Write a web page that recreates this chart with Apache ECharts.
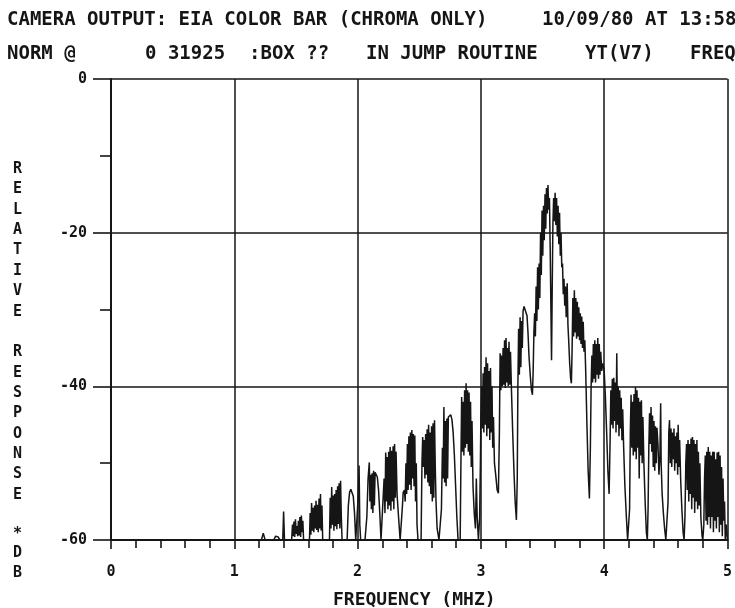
<!DOCTYPE html>
<html>
<head>
<meta charset="utf-8">
<script src="https://cdn.jsdelivr.net/npm/echarts@6/dist/echarts.min.js"></script>
<style>
html,body{margin:0;padding:0;background:#fff;}
#chart{width:735px;height:608px;}
</style>
</head>
<body>
<div id="chart"></div>
<script>
// ---- texts ----
const headerLine1 = [
  { text: 'CAMERA OUTPUT: EIA COLOR BAR (CHROMA ONLY)', x: 7 },
  { text: '10/09/80 AT 13:58', x: 542 }
];
const headerLine2 = [
  { text: 'NORM @', x: 7 },
  { text: '0 31925', x: 145 },
  { text: ':BOX ??', x: 249 },
  { text: 'IN JUMP ROUTINE', x: 366 },
  { text: 'YT(V7)', x: 585 },
  { text: 'FREQ', x: 690 }
];
const yAxisTitle = 'R\nE\nL\nA\nT\nI\nV\nE\n\nR\nE\nS\nP\nO\nN\nS\nE';
const yAxisUnit = '*\nD\nB';
const xAxisTitle = 'FREQUENCY (MHZ)';

// ---- axes ----
const freqRange = [0, 5];
const freqStep = 1;
const dbRange = [-60, 0];
const dbStep = 20;

// ---- spectrum trace: [frequency MHz, relative response dB] ----
const spectrum = [
[1.15,-60],[1.22,-60],[1.235,-59.1],[1.25,-60],[1.32,-60],[1.335,-59.5],[1.355,-59.6],[1.37,-60],[1.393,-60],[1.40,-56.3],[1.407,-60],[1.465,-60],
[1.472,-58.0],[1.478,-59.5],[1.484,-57.6],[1.49,-59.6],[1.496,-57.3],[1.502,-59.2],[1.508,-58.2],[1.514,-59.5],[1.52,-57.5],[1.526,-59.4],[1.532,-57.0],[1.538,-59.6],[1.544,-56.8],[1.55,-59.0],[1.556,-57.5],[1.562,-60],[1.61,-60],
[1.615,-56.5],[1.621,-59.3],[1.627,-55.2],[1.633,-58.8],[1.639,-55.8],[1.645,-59.0],[1.651,-55.5],[1.657,-58.5],[1.663,-54.9],[1.669,-58.7],[1.675,-55.4],[1.681,-59.0],[1.687,-54.6],[1.693,-58.5],[1.699,-54.0],[1.705,-58.8],[1.711,-55.5],[1.717,-60],[1.772,-60],
[1.778,-54.5],[1.784,-58.5],[1.79,-53.1],[1.796,-58.0],[1.802,-54.2],[1.808,-58.8],[1.814,-54.0],[1.82,-58.2],[1.826,-53.5],[1.832,-58.6],[1.838,-53.0],[1.844,-57.9],[1.85,-52.6],[1.856,-58.5],[1.862,-52.3],[1.868,-57.0],[1.874,-60],[1.915,-60],
[1.925,-55.5],[1.935,-53.8],[1.945,-53.4],[1.955,-53.5],[1.965,-54.3],[1.975,-56.5],[1.985,-60],[1.998,-60],[2.006,-54.0],[2.012,-50.3],[2.018,-58.0],[2.025,-60],[2.06,-60],
[2.075,-57.0],[2.085,-52.0],[2.095,-49.9],[2.10,-55.0],[2.106,-51.5],[2.112,-56.0],[2.118,-51.3],[2.124,-56.5],[2.13,-51.0],[2.136,-55.5],[2.142,-51.2],[2.15,-51.3],[2.16,-51.8],[2.17,-53.5],[2.18,-56.5],[2.19,-60],[2.205,-60],
[2.215,-52.0],[2.222,-56.5],[2.228,-48.6],[2.234,-55.0],[2.24,-49.2],[2.246,-56.0],[2.252,-48.5],[2.258,-55.5],[2.264,-47.9],[2.27,-56.2],[2.276,-48.4],[2.282,-55.0],[2.288,-47.8],[2.294,-56.0],[2.30,-47.5],[2.306,-54.5],[2.312,-48.5],[2.32,-54.0],[2.33,-56.5],[2.345,-60],[2.355,-60],
[2.362,-56.0],[2.37,-53.8],[2.38,-53.5],[2.386,-55.0],[2.392,-50.0],[2.398,-54.0],[2.404,-47.5],[2.41,-53.5],[2.416,-46.5],[2.422,-52.8],[2.428,-46.0],[2.434,-53.5],[2.44,-45.7],[2.446,-52.0],[2.452,-46.2],[2.458,-53.0],[2.464,-46.4],[2.47,-55.0],[2.476,-50.0],[2.482,-58.0],[2.49,-60],[2.515,-60],
[2.522,-50.0],[2.528,-46.6],[2.534,-50.5],[2.54,-47.0],[2.546,-52.0],[2.552,-46.2],[2.558,-51.5],[2.564,-45.6],[2.57,-52.5],[2.576,-45.0],[2.582,-53.0],[2.588,-46.0],[2.594,-54.0],[2.60,-45.2],[2.606,-55.0],[2.612,-44.8],[2.618,-54.5],[2.624,-44.4],[2.63,-50.5],[2.636,-55.0],[2.645,-58.5],[2.66,-60],[2.672,-60],
[2.68,-56.0],[2.688,-48.0],[2.694,-52.0],[2.70,-42.7],[2.706,-52.5],[2.712,-44.5],[2.718,-53.0],[2.724,-44.2],[2.73,-52.0],[2.736,-44.0],[2.745,-43.8],[2.755,-43.7],[2.765,-44.3],[2.775,-46.0],[2.785,-49.0],[2.795,-53.0],[2.805,-57.0],[2.815,-60],[2.832,-60],
[2.838,-50.0],[2.844,-41.4],[2.85,-48.5],[2.856,-42.0],[2.862,-49.0],[2.868,-40.5],[2.874,-48.0],[2.88,-39.6],[2.886,-47.5],[2.892,-40.5],[2.898,-48.5],[2.904,-40.8],[2.91,-49.0],[2.916,-42.0],[2.922,-50.5],[2.928,-44.5],[2.936,-53.0],[2.946,-56.5],[2.956,-58.5],[2.963,-52.0],[2.97,-57.0],[2.98,-60],[2.99,-57.0],
[2.996,-50.0],[3.00,-44.0],[3.006,-40.0],[3.012,-45.5],[3.018,-38.3],[3.024,-46.0],[3.03,-37.5],[3.036,-45.0],[3.042,-36.2],[3.048,-46.5],[3.054,-37.0],[3.06,-45.5],[3.066,-38.0],[3.072,-47.0],[3.078,-37.6],[3.084,-46.0],[3.09,-40.0],[3.096,-48.0],[3.102,-44.0],[3.11,-50.0],[3.12,-51.5],[3.132,-53.5],[3.142,-53.9],[3.15,-46.0],
[3.156,-35.7],[3.162,-40.5],[3.168,-36.0],[3.174,-40.0],[3.18,-35.0],[3.186,-39.8],[3.192,-34.0],[3.198,-40.2],[3.204,-33.7],[3.21,-39.5],[3.216,-35.0],[3.222,-40.0],[3.228,-34.2],[3.234,-39.8],[3.24,-35.5],[3.248,-40.5],[3.258,-46.0],[3.268,-51.0],[3.278,-55.0],[3.288,-57.4],[3.295,-52.0],
[3.30,-40.0],[3.306,-32.5],[3.312,-38.5],[3.318,-31.0],[3.324,-37.5],[3.33,-31.5],[3.336,-35.0],[3.342,-30.2],[3.35,-29.6],[3.358,-29.4],[3.366,-29.8],[3.374,-30.8],[3.382,-33.0],[3.39,-36.0],[3.40,-38.5],[3.41,-40.5],[3.418,-41.1],[3.424,-38.0],
[3.43,-33.0],[3.436,-30.5],[3.442,-33.5],[3.448,-27.0],[3.454,-31.5],[3.46,-24.5],[3.466,-30.0],[3.472,-24.0],[3.478,-28.5],[3.484,-20.0],[3.49,-25.5],[3.496,-17.1],[3.502,-23.0],[3.508,-16.5],[3.514,-21.0],[3.52,-15.0],[3.526,-19.5],[3.532,-14.2],[3.538,-17.5],[3.544,-13.8],[3.55,-17.0],[3.556,-15.5],[3.562,-22.0],[3.568,-30.0],[3.573,-36.6],[3.578,-28.0],[3.584,-19.0],[3.59,-15.5],[3.596,-18.5],[3.602,-14.8],[3.608,-19.0],[3.614,-15.5],[3.62,-20.5],[3.626,-16.5],[3.632,-21.5],[3.638,-17.4],[3.644,-23.0],[3.65,-20.0],[3.656,-24.5],[3.662,-24.0],[3.668,-28.0],[3.674,-26.0],[3.68,-29.5],[3.686,-27.0],[3.692,-31.0],[3.70,-26.6],[3.706,-32.0],[3.712,-34.0],[3.72,-37.0],[3.728,-39.0],[3.734,-39.6],[3.74,-35.0],
[3.746,-28.5],[3.752,-33.5],[3.758,-27.5],[3.764,-33.0],[3.77,-28.5],[3.776,-33.8],[3.782,-29.0],[3.788,-33.5],[3.794,-29.7],[3.80,-34.0],[3.806,-30.5],[3.812,-34.5],[3.818,-30.9],[3.824,-35.0],[3.83,-31.6],[3.836,-35.5],[3.843,-34.0],[3.85,-38.0],[3.86,-45.0],[3.87,-51.0],[3.88,-54.6],[3.888,-48.0],
[3.894,-40.0],[3.90,-36.0],[3.906,-39.5],[3.912,-34.5],[3.918,-39.0],[3.924,-34.0],[3.93,-39.5],[3.936,-34.5],[3.942,-38.5],[3.948,-33.7],[3.954,-39.0],[3.96,-34.5],[3.966,-38.5],[3.972,-35.5],[3.98,-38.0],[3.99,-37.0],[4.00,-38.0],[4.01,-41.5],[4.02,-46.0],[4.03,-51.0],[4.04,-54.0],[4.048,-47.0],
[4.054,-40.5],[4.06,-45.0],[4.066,-39.0],[4.072,-45.5],[4.078,-38.9],[4.084,-44.5],[4.09,-39.5],[4.096,-46.0],[4.102,-35.7],[4.108,-45.0],[4.114,-40.0],[4.12,-46.5],[4.126,-40.5],[4.132,-45.5],[4.138,-41.5],[4.144,-47.0],[4.15,-43.0],[4.158,-48.0],[4.168,-53.0],[4.18,-57.0],[4.19,-60],[4.20,-60],[4.206,-56.0],
[4.212,-46.0],[4.218,-41.1],[4.224,-48.0],[4.23,-42.0],[4.236,-49.0],[4.242,-41.0],[4.248,-48.5],[4.254,-40.1],[4.26,-49.5],[4.266,-40.5],[4.272,-48.0],[4.278,-41.5],[4.284,-52.0],[4.29,-42.0],[4.296,-49.0],[4.302,-41.8],[4.308,-50.0],[4.314,-44.0],[4.322,-50.0],[4.332,-55.0],[4.342,-59.0],[4.35,-60],[4.356,-56.0],
[4.362,-48.0],[4.368,-43.5],[4.374,-47.5],[4.38,-42.7],[4.386,-48.5],[4.392,-43.8],[4.398,-50.5],[4.404,-44.5],[4.41,-51.0],[4.416,-45.2],[4.422,-50.0],[4.428,-45.4],[4.436,-47.5],[4.444,-51.5],[4.452,-49.0],[4.458,-42.2],[4.462,-50.0],[4.47,-54.0],[4.48,-56.5],[4.49,-58.5],[4.50,-60],[4.51,-60],[4.518,-55.0],
[4.524,-46.0],[4.53,-44.4],[4.536,-50.0],[4.542,-45.5],[4.548,-50.5],[4.554,-46.0],[4.56,-49.5],[4.566,-45.5],[4.572,-51.0],[4.578,-46.5],[4.584,-50.0],[4.59,-46.0],[4.596,-51.5],[4.60,-45.0],[4.606,-50.5],[4.612,-47.0],[4.62,-52.0],[4.63,-56.0],[4.64,-59.0],[4.648,-60],[4.655,-57.0],
[4.662,-50.0],[4.668,-47.5],[4.674,-53.5],[4.68,-47.0],[4.686,-55.0],[4.692,-47.5],[4.698,-54.0],[4.704,-46.8],[4.71,-56.0],[4.716,-46.6],[4.722,-54.5],[4.728,-47.0],[4.734,-56.5],[4.74,-47.5],[4.746,-55.0],[4.752,-47.0],[4.758,-56.0],[4.764,-48.5],[4.77,-55.5],[4.776,-50.0],[4.784,-57.0],[4.794,-59.5],[4.80,-60],[4.808,-58.0],
[4.814,-52.0],[4.82,-49.0],[4.826,-57.5],[4.832,-48.5],[4.838,-58.0],[4.844,-47.9],[4.85,-57.0],[4.856,-48.5],[4.862,-58.5],[4.868,-49.0],[4.874,-57.0],[4.88,-48.5],[4.886,-59.0],[4.892,-48.5],[4.898,-57.5],[4.904,-49.5],[4.91,-58.5],[4.916,-48.6],[4.922,-57.0],[4.928,-48.5],[4.934,-59.0],[4.94,-49.0],[4.946,-58.0],[4.952,-50.5],[4.958,-59.5],[4.964,-52.0],[4.97,-57.5],[4.976,-55.0],[4.982,-60],[4.99,-58.0],[5.0,-60]
];

// ---- rendering ----
const INK = '#151515';
const FONT = "'DejaVu Sans Mono', monospace";
const chart = echarts.init(document.getElementById('chart'), null, { renderer: 'canvas' });

const graphics = [];
headerLine1.forEach(function (t) {
  graphics.push({ type: 'text', left: t.x, top: 11, style: { text: t.text, fill: INK, fontFamily: FONT, fontWeight: 'bold', fontSize: 19 } });
});
headerLine2.forEach(function (t) {
  graphics.push({ type: 'text', left: t.x, top: 45, style: { text: t.text, fill: INK, fontFamily: FONT, fontWeight: 'bold', fontSize: 19 } });
});
graphics.push({ type: 'text', left: 13, top: 159, style: { text: yAxisTitle, fill: INK, fontFamily: FONT, fontWeight: 'bold', fontSize: 15, lineHeight: 20.35 } });
graphics.push({ type: 'text', left: 13, top: 524, style: { text: yAxisUnit, fill: INK, fontFamily: FONT, fontWeight: 'bold', fontSize: 15, lineHeight: 19.5 } });
graphics.push({ type: 'text', left: 333, top: 591, style: { text: xAxisTitle, fill: INK, fontFamily: FONT, fontWeight: 'bold', fontSize: 18 } });

chart.setOption({
  animation: false,
  backgroundColor: '#ffffff',
  grid: { left: 111, right: 4, top: 79, bottom: 68, containLabel: false },
  graphic: graphics,
  xAxis: {
    type: 'value', min: freqRange[0], max: freqRange[1], interval: freqStep,
    axisLine: { show: true, onZero: false, lineStyle: { color: INK, width: 2 } },
    axisTick: { show: true, inside: false, length: 9, lineStyle: { color: INK, width: 1.6 } },
    minorTick: { show: true, splitNumber: 5, length: 8, lineStyle: { color: INK, width: 1.6 } },
    splitLine: { show: true, lineStyle: { color: INK, width: 1.5 } },
    axisLabel: { color: INK, fontFamily: FONT, fontWeight: 'bold', fontSize: 15, margin: 25, showMaxLabel: true, showMinLabel: true }
  },
  yAxis: {
    type: 'value', min: dbRange[0], max: dbRange[1], interval: dbStep,
    axisLine: { show: true, onZero: false, lineStyle: { color: INK, width: 2 } },
    axisTick: { show: true, inside: false, length: 18, lineStyle: { color: INK, width: 1.6 } },
    minorTick: { show: true, splitNumber: 2, length: 11, lineStyle: { color: INK, width: 1.6 } },
    splitLine: { show: true, lineStyle: { color: INK, width: 1.5 } },
    axisLabel: { color: INK, fontFamily: FONT, fontWeight: 'bold', fontSize: 15, margin: 24 }
  },
  series: [{
    type: 'line',
    data: spectrum,
    showSymbol: false,
    symbol: 'none',
    smooth: false,
    sampling: null,
    clip: true,
    lineStyle: { color: INK, width: 1.5 },
    z: 5
  }]
});
</script>
</body>
</html>
